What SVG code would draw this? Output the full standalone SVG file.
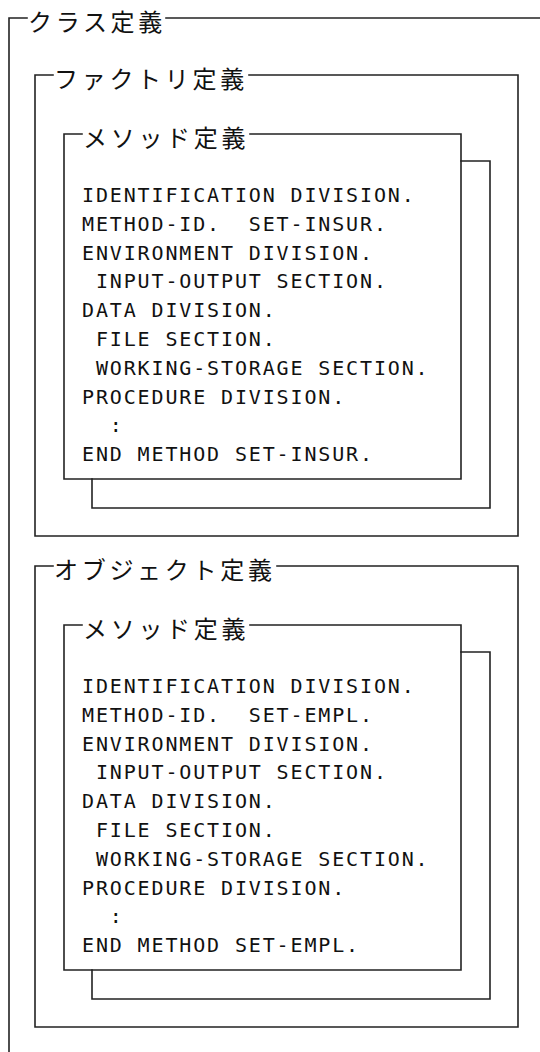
<svg xmlns="http://www.w3.org/2000/svg" width="540" height="1052" viewBox="0 0 540 1052">
<style>
.ln{fill:none;stroke:#222;stroke-width:1.6;stroke-linecap:square}
.hd{font-family:"Noto Sans CJK JP","Noto Sans",sans-serif;font-size:24px;letter-spacing:3.7px;fill:#111}
.cd{font-family:"DejaVu Sans Mono","Liberation Mono",monospace;font-size:20px;letter-spacing:1.86px;fill:#111;white-space:pre}
</style>
<rect x="0" y="0" width="540" height="1052" fill="#fff"/>
<g id="class-def">
<path class="ln" d="M27,18 H9 V1052"/>
<path class="ln" d="M166,18 H540"/>
<text class="hd" x="28" y="31">クラス定義</text>
</g>
<g id="factory-def">
<path class="ln" d="M53,75 H35 V536 H518 V75 H249"/>
<text class="hd" x="54" y="88">ファクトリ定義</text>
</g>
<g id="factory-method-back">
<path class="ln" d="M461,161 H490 V508 H92 V479"/>
</g>
<g id="factory-method">
<path class="ln" d="M82,134 H64 V479 H461 V134 H250"/>
<text class="hd" x="83" y="147">メソッド定義</text>
<text class="cd" xml:space="preserve"><tspan x="82" y="202">IDENTIFICATION DIVISION.</tspan><tspan x="82" y="230.8">METHOD-ID.  SET-INSUR.</tspan><tspan x="82" y="259.6">ENVIRONMENT DIVISION.</tspan><tspan x="82" y="288.4"> INPUT-OUTPUT SECTION.</tspan><tspan x="82" y="317.2">DATA DIVISION.</tspan><tspan x="82" y="346"> FILE SECTION.</tspan><tspan x="82" y="374.8"> WORKING-STORAGE SECTION.</tspan><tspan x="82" y="403.6">PROCEDURE DIVISION.</tspan><tspan x="82" y="432.4">  :</tspan><tspan x="82" y="461.2">END METHOD SET-INSUR.</tspan></text>
</g>
<g id="object-def">
<path class="ln" d="M53,566 H35 V1027 H518 V566 H277"/>
<text class="hd" x="54" y="579">オブジェクト定義</text>
</g>
<g id="object-method-back">
<path class="ln" d="M461,652 H490 V999 H92 V970"/>
</g>
<g id="object-method">
<path class="ln" d="M82,625 H64 V970 H461 V625 H250"/>
<text class="hd" x="83" y="638">メソッド定義</text>
<text class="cd" xml:space="preserve"><tspan x="82" y="693">IDENTIFICATION DIVISION.</tspan><tspan x="82" y="721.8">METHOD-ID.  SET-EMPL.</tspan><tspan x="82" y="750.6">ENVIRONMENT DIVISION.</tspan><tspan x="82" y="779.4"> INPUT-OUTPUT SECTION.</tspan><tspan x="82" y="808.2">DATA DIVISION.</tspan><tspan x="82" y="837"> FILE SECTION.</tspan><tspan x="82" y="865.8"> WORKING-STORAGE SECTION.</tspan><tspan x="82" y="894.6">PROCEDURE DIVISION.</tspan><tspan x="82" y="923.4">  :</tspan><tspan x="82" y="952.2">END METHOD SET-EMPL.</tspan></text>
</g>
</svg>
